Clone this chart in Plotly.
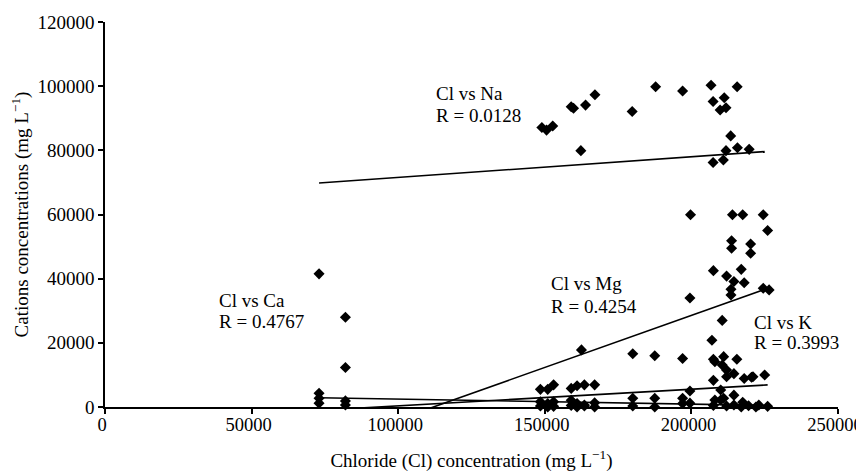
import plotly.graph_objects as go

# ---- data ----
na_cl = [149000, 150600, 152700, 159000, 159800, 163900, 167100, 162300, 179800, 187800,
         197000, 206700, 215600, 207400, 211200, 209800, 211800, 213400, 211800, 215700,
         219700, 207400, 210900]
na_val = [87100, 86300, 87600, 93600, 93100, 94100, 97300, 79900, 92100, 99800,
          98500, 100300, 99800, 95200, 96400, 92600, 93300, 84500, 79900, 80800,
          80300, 76200, 77000]

ca_cl = [73000, 82000, 82000, 73000, 73000, 82000, 148500, 151000, 153000, 159000,
         161000, 163500, 167000, 180000, 187500, 197000, 199500, 207500, 210000, 212000,
         214500, 217000, 219500, 222000, 226000]
ca_val = [41500, 28000, 12300, 4300, 2700, 1900, 1600, 1100, 1600, 2100,
          1100, 600, 1300, 300, 0, 1100, 1200, 500, 2200, 300,
          600, 0, 400, 0, 200]

mg_cl = [73000, 82000, 148500, 151000, 153000, 159000, 161000, 163500, 167000, 162500,
         180000, 187500, 197000, 199500, 199700, 207000, 210500, 207500, 211000, 215500,
         208000, 210500, 212000, 207500, 212000, 217000, 214500, 218000, 213500, 213500,
         224500, 226500, 214000, 217500, 224500, 226000, 213700, 213700, 220200, 220200]
mg_val = [1200, 600, 5500, 5500, 6900, 5800, 6600, 6900, 6900, 17800,
          16600, 16000, 15100, 34000, 59900, 20800, 27000, 14900, 15700, 14900,
          14100, 13100, 11500, 42500, 40800, 42900, 39100, 38700, 36700, 34900,
          37000, 36500, 59900, 59900, 59900, 55000, 51800, 49500, 50800, 47900]

k_cl = [148500, 151000, 153000, 159000, 161000, 163500, 167000, 180000, 187500, 197000,
        199500, 207500, 210000, 212000, 214500, 218000, 220500, 221000, 225000, 208000,
        211000, 214500, 217500, 223000]
k_val = [300, 0, 200, 500, 0, 300, 0, 2700, 2700, 2700,
         5000, 8300, 5300, 9400, 10400, 8900, 9300, 9400, 10000, 2200,
         2700, 3700, 1500, 600]

# linear trend coefficients (slope, intercept)
trend_names = ["Na", "Ca", "Mg", "K"]
trend_slope = [0.0643, -0.0157, 0.3246, 0.0518]
trend_intercept = [65131, 4046, -36355, -4826]
trend_xmin = [73000, 73000, 73000, 73000]
trend_xmax = [225000, 226000, 226000, 226000]

label_line1 = ["Cl vs Na", "Cl vs Ca", "Cl vs Mg", "Cl vs K"]
label_line2 = ["R = 0.0128", "R = 0.4767", "R = 0.4254", "R = 0.3993"]
label_x = [112200, 38100, 151500, 220600]
label_y1 = [97700, 33350, 38340, 26200]
label_y2 = [91000, 26800, 31480, 19950]

x_ticks = [0, 50000, 100000, 150000, 200000, 250000]
y_ticks = [0, 20000, 40000, 60000, 80000, 100000, 120000]

FONT = "Liberation Serif"

fig = go.Figure()
for xs, ys in [(na_cl, na_val), (ca_cl, ca_val), (mg_cl, mg_val), (k_cl, k_val)]:
    fig.add_trace(go.Scatter(x=xs, y=ys, mode="markers",
                             marker=dict(symbol="diamond", size=8.5, color="black"),
                             showlegend=False, cliponaxis=False))

for s, b, x0, x1 in zip(trend_slope, trend_intercept, trend_xmin, trend_xmax):
    fig.add_trace(go.Scatter(x=[x0, x1], y=[s * x0 + b, s * x1 + b], mode="lines",
                             line=dict(color="black", width=1.6), showlegend=False))

for t1, t2, lx, y1, y2 in zip(label_line1, label_line2, label_x, label_y1, label_y2):
    for t, ly in ((t1, y1), (t2, y2)):
        fig.add_annotation(x=lx, y=ly, text=t, showarrow=False, xanchor="left",
                           yanchor="middle", align="left",
                           font=dict(family=FONT, size=19, color="black"))

axis_common = dict(showgrid=False, zeroline=False, showline=True, linecolor="black",
                   linewidth=1.6, ticks="outside", ticklen=5, tickwidth=1.5,
                   tickcolor="black", automargin=False, ticklabeloverflow="allow")

fig.update_xaxes(range=[0, 250000], tickvals=x_ticks, ticktext=[str(v) for v in x_ticks],
                 tickfont=dict(family=FONT, size=18.5, color="black"),
                 ticklabelshift=-3, ticklabelstandoff=-5,
                 title=dict(text="Chloride (Cl) concentration (mg L<sup>−1</sup>)",
                            font=dict(family=FONT, size=19, color="black"), standoff=20),
                 **axis_common)
fig.update_yaxes(range=[0, 120000], tickvals=y_ticks, ticktext=[str(v) for v in y_ticks],
                 tickfont=dict(family=FONT, size=19, color="black"),
                 title=dict(text="Cations concentrations (mg L<sup>−1</sup>)",
                            font=dict(family=FONT, size=19, color="black"), standoff=8),
                 **axis_common)

# page body adds an 8px offset; margins compensate so the plot area matches the reference
fig.update_layout(width=856, height=467, plot_bgcolor="white", paper_bgcolor="white",
                  margin=dict(l=97, r=26, t=14, b=68), showlegend=False)

fig.write_html("out.html")
